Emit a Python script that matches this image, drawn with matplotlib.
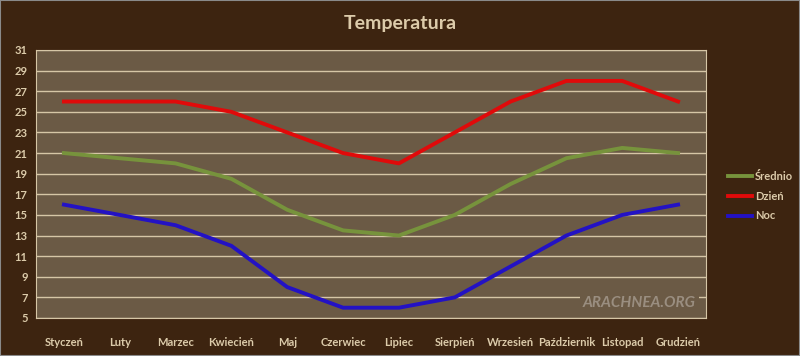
import numpy as np
import matplotlib.pyplot as plt
from matplotlib.patches import Rectangle

# monthly temperatures
months = ['Styczeń', 'Luty', 'Marzec', 'Kwiecień', 'Maj', 'Czerwiec', 'Lipiec',
          'Sierpień', 'Wrzesień', 'Październik', 'Listopad', 'Grudzień']
srednio = [21, 20.5, 20, 18.5, 15.5, 13.5, 13, 15, 18, 20.5, 21.5, 21]
dzien = [26, 26, 26, 25, 23, 21, 20, 23, 26, 28, 28, 26]
noc = [16, 15, 14, 12, 8, 6, 6, 7, 10, 13, 15, 16]
yticks = list(range(5, 32, 2))

bg = '#3d2410'
face = '#6b5a45'
grid = '#d6c6a6'
txt = '#dccbaa'

plt.rcParams['font.family'] = ['Lato', 'DejaVu Sans']

fig = plt.figure(figsize=(8, 3.56), dpi=100, facecolor=bg)
ax = fig.add_axes([36/800, 1 - 318/356, 670/800, 268/356])
ax.set_facecolor(face)

x = np.arange(len(months))
ax.plot(x, srednio, color='#77933c', lw=2.8, label='Średnio', solid_joinstyle='round')
ax.plot(x, dzien, color='#e00a0a', lw=2.8, label='Dzień', solid_joinstyle='round')
ax.plot(x, noc, color='#2312c4', lw=2.8, label='Noc', solid_joinstyle='round')

ax.set_xlim(-0.5, len(months) - 0.5)
ax.set_ylim(5, 31)
ax.set_yticks(yticks)
ax.set_xticks(x)
ax.set_xticklabels(months)
for t in yticks:
    ax.axhline(t, color=grid, lw=1, zorder=0.5)
for s in ax.spines.values():
    s.set_color(grid)
    s.set_linewidth(0.8)
ax.tick_params(length=0, colors=txt, labelsize=8, pad=6)
ax.tick_params(axis='x', pad=14)
for lab in ax.get_xticklabels() + ax.get_yticklabels():
    lab.set_fontweight('bold')

ax.text(0.985, 0.055, 'ARACHNEA.ORG', transform=ax.transAxes, ha='right', va='center',
        fontsize=11, style='italic', fontweight='bold', color='#9a8e80',
        bbox=dict(facecolor=face, edgecolor='none', pad=2))

fig.text(0.5, 1 - 24/356, 'Temperatura', ha='center', va='center',
         fontsize=14, fontweight='bold', color=txt)

leg = fig.legend(loc='center left', bbox_to_anchor=(718/800, 1 - 196/356), frameon=False,
                 handlelength=2.2, handletextpad=0.2, labelspacing=0.8, fontsize=8)
for t in leg.get_texts():
    t.set_color(txt)
    t.set_fontweight('bold')

fig.add_artist(Rectangle((0, 0), 1, 1, transform=fig.transFigure, fill=False,
                         edgecolor='#8a8a8a', lw=1.5))

fig.savefig('out.png', dpi=100, facecolor=bg)
